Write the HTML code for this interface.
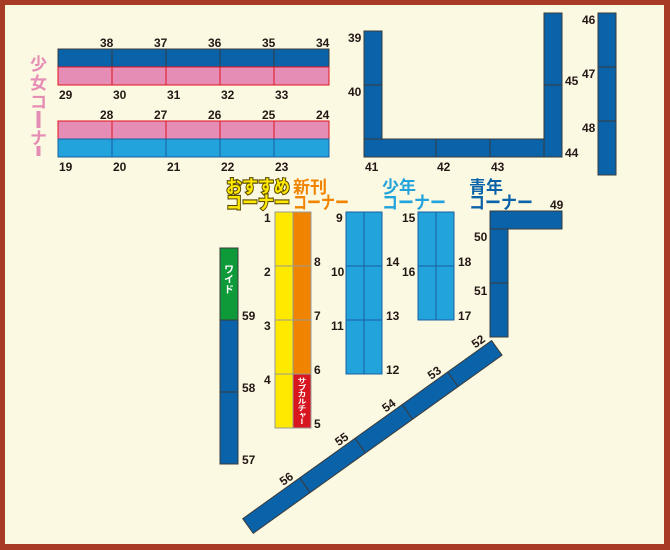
<!DOCTYPE html>
<html><head><meta charset="utf-8"><style>
html,body{margin:0;padding:0;background:#a83b26}
svg{display:block}
text{font-family:"Liberation Sans","Noto Sans CJK JP",sans-serif;font-weight:bold}
.n{font-size:12px;fill:#231815}
.db{fill:#0a62a8;stroke:#3a3a3a;stroke-width:1}
.lb{fill:#22a3db;stroke:#1a5fa0;stroke-width:1}
.pk{fill:#e58db5;stroke:#e0141e;stroke-width:1}
.yl{fill:#ffe900;stroke:#999;stroke-width:1}
.or{fill:#f08300;stroke:#999;stroke-width:1}
.h{font-size:16px;font-family:"Noto Sans CJK JP",sans-serif;font-weight:bold}
</style></head><body>
<svg width="670" height="550" viewBox="0 0 670 550" xmlns="http://www.w3.org/2000/svg">
<rect x="0" y="0" width="670" height="550" fill="#a83b26"/>
<rect x="5" y="5" width="659" height="539" fill="#fcf9e2"/>

<!-- top rows -->
<rect class="db" x="58" y="49" width="54" height="18"/><rect class="db" x="112" y="49" width="54" height="18"/><rect class="db" x="166" y="49" width="54" height="18"/><rect class="db" x="220" y="49" width="54" height="18"/><rect class="db" x="274" y="49" width="55" height="18"/>
<rect class="pk" x="58" y="67" width="54" height="18"/><rect class="pk" x="112" y="67" width="54" height="18"/><rect class="pk" x="166" y="67" width="54" height="18"/><rect class="pk" x="220" y="67" width="54" height="18"/><rect class="pk" x="274" y="67" width="55" height="18"/>
<rect class="pk" x="58" y="121" width="54" height="18"/><rect class="pk" x="112" y="121" width="54" height="18"/><rect class="pk" x="166" y="121" width="54" height="18"/><rect class="pk" x="220" y="121" width="54" height="18"/><rect class="pk" x="274" y="121" width="55" height="18"/>
<rect class="lb" x="58" y="139" width="54" height="18"/><rect class="lb" x="112" y="139" width="54" height="18"/><rect class="lb" x="166" y="139" width="54" height="18"/><rect class="lb" x="220" y="139" width="54" height="18"/><rect class="lb" x="274" y="139" width="55" height="18"/>
<text class="n" x="100" y="47">38</text><text class="n" x="154" y="47">37</text><text class="n" x="208" y="47">36</text><text class="n" x="262" y="47">35</text><text class="n" x="316" y="47">34</text>
<text class="n" x="59" y="99">29</text><text class="n" x="113" y="99">30</text><text class="n" x="167" y="99">31</text><text class="n" x="221" y="99">32</text><text class="n" x="275" y="99">33</text>
<text class="n" x="100" y="119">28</text><text class="n" x="154" y="119">27</text><text class="n" x="208" y="119">26</text><text class="n" x="262" y="119">25</text><text class="n" x="316" y="119">24</text>
<text class="n" x="59" y="171">19</text><text class="n" x="113" y="171">20</text><text class="n" x="167" y="171">21</text><text class="n" x="221" y="171">22</text><text class="n" x="275" y="171">23</text>

<!-- shoujo vertical label -->
<g fill="#e58db5">
<text class="h" x="30" y="70" style="font-size:17px" fill="#e58db5">少</text>
<text class="h" x="30" y="89" style="font-size:17px" fill="#e58db5">女</text>
<text class="h" x="30" y="108" style="font-size:17px" fill="#e58db5">コ</text>
<rect x="36.5" y="111" width="4" height="17"/>
<text class="h" x="30" y="144" style="font-size:17px" fill="#e58db5">ナ</text>
<rect x="36.5" y="146" width="4" height="10"/>
</g>

<!-- U shape -->
<rect class="db" x="364" y="31" width="18" height="54"/>
<rect class="db" x="364" y="85" width="18" height="54"/>
<rect class="db" x="364" y="139" width="72" height="18"/>
<rect class="db" x="436" y="139" width="54" height="18"/>
<rect class="db" x="490" y="139" width="54" height="18"/>
<rect class="db" x="544" y="13" width="18" height="72"/>
<rect class="db" x="544" y="85" width="18" height="72"/>
<text class="n" x="348" y="42">39</text><text class="n" x="348" y="96">40</text>
<text class="n" x="365" y="171">41</text><text class="n" x="437" y="171">42</text><text class="n" x="491" y="171">43</text>
<text class="n" x="565" y="157">44</text><text class="n" x="565" y="85">45</text>

<rect class="db" x="598" y="13" width="18" height="54"/>
<rect class="db" x="598" y="67" width="18" height="54"/>
<rect class="db" x="598" y="121" width="18" height="54"/>
<text class="n" x="582" y="24">46</text><text class="n" x="582" y="78">47</text><text class="n" x="582" y="132">48</text>

<!-- headers -->
<g class="h" stroke="#5a4a00" stroke-width="2.2" paint-order="stroke" fill="#ffe900">
<text x="226" y="193" textLength="64" lengthAdjust="spacingAndGlyphs" style="font-size:18px">おすすめ</text>
<text x="226" y="209" textLength="64" lengthAdjust="spacingAndGlyphs" style="font-size:18px">コーナー</text>
</g>
<g class="h" fill="#f08300">
<text x="293" y="193" style="font-size:17px">新刊</text>
<text x="293" y="209" textLength="56" lengthAdjust="spacingAndGlyphs" style="font-size:18px">コーナー</text>
</g>
<g class="h" fill="#22a3db">
<text x="382" y="193" style="font-size:17px">少年</text>
<text x="382" y="209" textLength="64" lengthAdjust="spacingAndGlyphs" style="font-size:18px">コーナー</text>
</g>
<g class="h" fill="#0a62a8">
<text x="469" y="193" style="font-size:17px">青年</text>
<text x="469" y="209" textLength="64" lengthAdjust="spacingAndGlyphs" style="font-size:18px">コーナー</text>
</g>

<!-- osusume / shinkan -->
<rect class="yl" x="275" y="212" width="18" height="54"/><rect class="yl" x="275" y="266" width="18" height="54"/><rect class="yl" x="275" y="320" width="18" height="54"/><rect class="yl" x="275" y="374" width="18" height="54"/>
<rect class="or" x="293" y="212" width="18" height="54"/><rect class="or" x="293" y="266" width="18" height="54"/><rect class="or" x="293" y="320" width="18" height="54"/>
<rect x="293" y="374" width="18" height="54" fill="#d7161f" stroke="#999"/>
<text x="302" y="377" fill="#fff" style="font-size:9px;font-family:'Noto Sans CJK JP',sans-serif;writing-mode:tb" textLength="48" lengthAdjust="spacingAndGlyphs">サブカルチャー</text>
<text class="n" x="264" y="222">1</text><text class="n" x="264" y="276">2</text><text class="n" x="264" y="330">3</text><text class="n" x="264" y="384">4</text>
<text class="n" x="314" y="266">8</text><text class="n" x="314" y="320">7</text><text class="n" x="314" y="374">6</text><text class="n" x="314" y="428">5</text>

<!-- shounen -->
<rect class="lb" x="346" y="212" width="18" height="54"/><rect class="lb" x="364" y="212" width="18" height="54"/>
<rect class="lb" x="346" y="266" width="18" height="54"/><rect class="lb" x="364" y="266" width="18" height="54"/>
<rect class="lb" x="346" y="320" width="18" height="54"/><rect class="lb" x="364" y="320" width="18" height="54"/>
<text class="n" x="336" y="222">9</text><text class="n" x="331" y="276">10</text><text class="n" x="331" y="330">11</text>
<text class="n" x="386" y="266">14</text><text class="n" x="386" y="320">13</text><text class="n" x="386" y="374">12</text>
<rect class="lb" x="418" y="212" width="18" height="54"/><rect class="lb" x="436" y="212" width="18" height="54"/>
<rect class="lb" x="418" y="266" width="18" height="54"/><rect class="lb" x="436" y="266" width="18" height="54"/>
<text class="n" x="402" y="222">15</text><text class="n" x="402" y="276">16</text>
<text class="n" x="458" y="266">18</text><text class="n" x="458" y="320">17</text>

<!-- wide -->
<rect x="220" y="248" width="18" height="72" fill="#0f9a3a" stroke="#3a3a3a"/>
<text x="229" y="264" fill="#fff" style="font-size:10px;font-family:'Noto Sans CJK JP',sans-serif;writing-mode:tb">ワイド</text>
<rect class="db" x="220" y="320" width="18" height="72"/><rect class="db" x="220" y="392" width="18" height="72"/>
<text class="n" x="242" y="320">59</text><text class="n" x="242" y="392">58</text><text class="n" x="242" y="464">57</text>

<!-- seinen L -->
<rect class="db" x="490" y="211" width="72" height="18"/>
<rect class="db" x="490" y="229" width="18" height="54"/><rect class="db" x="490" y="283" width="18" height="54"/>
<text class="n" x="550" y="209">49</text><text class="n" x="474" y="241">50</text><text class="n" x="474" y="295">51</text>

<!-- diagonal -->
<g transform="translate(248,526) rotate(-35.6)">
<rect class="db" x="0" y="-9" width="306" height="18"/>
<line x1="70" y1="-9" x2="70" y2="9" stroke="#3a3a3a"/>
<line x1="138" y1="-9" x2="138" y2="9" stroke="#3a3a3a"/>
<line x1="196" y1="-9" x2="196" y2="9" stroke="#3a3a3a"/>
<line x1="252" y1="-9" x2="252" y2="9" stroke="#3a3a3a"/>
<text class="n" x="52" y="-12">56</text>
<text class="n" x="120" y="-12">55</text>
<text class="n" x="178" y="-12">54</text>
<text class="n" x="234" y="-12">53</text>
<text class="n" x="288" y="-12">52</text>
</g>
</svg>
</body></html>
